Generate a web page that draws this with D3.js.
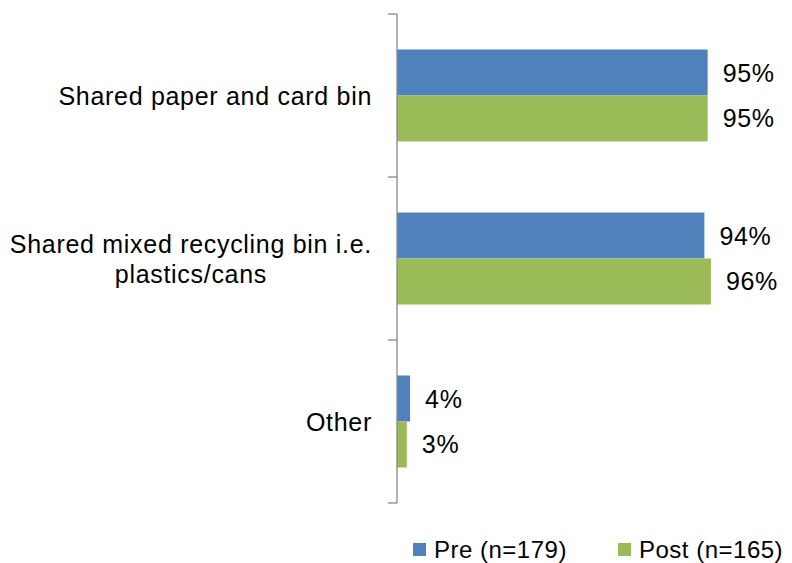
<!DOCTYPE html>
<html>
<head>
<meta charset="utf-8">
<script src="https://cdn.jsdelivr.net/npm/d3@7"></script>
<style>
  html, body { margin: 0; padding: 0; background: #fff; }
  svg { display: block; font-family: "Liberation Sans", Arial, sans-serif; }
  text { letter-spacing: 0.7px; }
  .legend text { letter-spacing: 0.5px; }
</style>
</head>
<body>
<svg id="chart" width="792" height="563"></svg>
<script>
// Bin types (each entry is a list of label lines)
const categories = [
  ["Shared paper and card bin"],
  ["Shared mixed recycling bin i.e.", "plastics/cans"],
  ["Other"]
];
const seriesNames = ["Pre (n=179)", "Post (n=165)"];
const preValues  = [0.95, 0.94, 0.04];
const postValues = [0.95, 0.96, 0.03];
const colors = ["#4F81BD", "#9BBB59"];

const svg = d3.select("#chart");
const fontSize = 25;

const x = d3.scaleLinear().domain([0, 1]).range([397, 724]);
const y = d3.scaleBand().domain(d3.range(categories.length)).range([14, 503]);
const ySub = d3.scaleBand().domain([0, 1]).range([0, y.bandwidth()]).paddingOuter(0.772);

const rows = categories.map((c, i) => ({ lines: c, values: [preValues[i], postValues[i]] }));

// Bars
const groups = svg.selectAll("g.cat").data(rows).join("g")
  .attr("class", "cat")
  .attr("transform", (d, i) => `translate(0,${y(i)})`);

groups.selectAll("rect").data(d => d.values).join("rect")
  .attr("x", x(0))
  .attr("y", (v, j) => ySub(j))
  .attr("width", v => x(v) - x(0))
  .attr("height", ySub.bandwidth())
  .attr("fill", (v, j) => colors[j]);

// Value labels
groups.selectAll("text.val").data(d => d.values).join("text")
  .attr("class", "val")
  .attr("x", v => x(v) + 15)
  .attr("y", (v, j) => ySub(j) + ySub.bandwidth() / 2)
  .attr("dy", "0.36em")
  .attr("font-size", fontSize)
  .attr("fill", "#000")
  .text(v => d3.format(".0%")(v));

// Category axis: vertical line with ticks at band boundaries
const axis = svg.append("g").attr("stroke", "#888888").attr("stroke-width", 1.3);
axis.append("line")
  .attr("x1", x(0)).attr("x2", x(0))
  .attr("y1", y.range()[0]).attr("y2", y.range()[1]);
const boundaries = d3.range(categories.length + 1).map(i => y.range()[0] + i * y.step());
axis.selectAll("line.tick").data(boundaries).join("line")
  .attr("class", "tick")
  .attr("x1", x(0) - 9).attr("x2", x(0))
  .attr("y1", b => b).attr("y2", b => b);

// Category labels: block right-aligned, lines centred within block
const labelRight = 372;
const lineHeight = 30;
groups.each(function(d) {
  const g = d3.select(this);
  const t = g.append("text")
    .attr("font-size", fontSize)
    .attr("fill", "#000")
    .attr("text-anchor", "middle");
  const n = d.lines.length;
  const spans = d.lines.map((line, k) => t.append("tspan")
    .attr("y", y.bandwidth() / 2 + (k - (n - 1) / 2) * lineHeight)
    .attr("dy", "0.36em")
    .text(line));
  const widths = spans.map(s => s.node().getComputedTextLength());
  const maxW = d3.max(widths);
  const cx = labelRight - maxW / 2;
  spans.forEach(s => s.attr("x", cx));
});

// Legend
const legendItems = [{ x: 413 }, { x: 618 }];
const legend = svg.append("g").attr("class", "legend");
seriesNames.forEach((name, j) => {
  const lx = legendItems[j].x;
  legend.append("rect")
    .attr("x", lx).attr("y", 543)
    .attr("width", 13).attr("height", 13)
    .attr("fill", colors[j]);
  legend.append("text")
    .attr("x", lx + 21).attr("y", 549)
    .attr("dy", "0.36em")
    .attr("font-size", fontSize - 1)
    .attr("fill", "#000")
    .text(name);
});
</script>
</body>
</html>
